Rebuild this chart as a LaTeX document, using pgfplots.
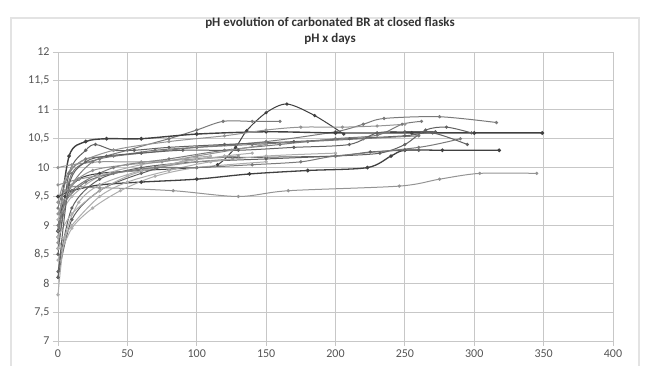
\documentclass[border=0pt]{standalone}
\usepackage{fontspec}
\setmainfont{Carlito}
\usepackage{pgfplots}
\pgfplotsset{compat=1.18}
\definecolor{gridc}{gray}{0.78}
\definecolor{tickc}{gray}{0.33}
\definecolor{g1}{gray}{0.25}
\definecolor{g2}{gray}{0.38}
\definecolor{g3}{gray}{0.48}
\definecolor{g4}{gray}{0.58}
\definecolor{g5}{gray}{0.68}
\pgfplotsset{ser/.style={smooth, tension=0.5, line width=1pt, mark=*, mark size=1.1pt, mark options={solid}}}
\begin{document}
\begin{tikzpicture}[x=1pt,y=1pt]
\path[use as bounding box] (-58,-25) rectangle (587,341);
\draw[line width=2pt, gray!22] (-47,-40) rectangle (581,323);
\begin{axis}[
  at={(0,0)}, anchor=south west,
  scale only axis, width=555pt, height=289pt,
  xmin=0, xmax=400, ymin=7, ymax=12,
  xtick={0,50,...,400}, xticklabels={0,50,100,150,200,250,300,350,400},
  ytick={7,7.5,...,12}, yticklabels={{7},{7,5},{8},{8,5},{9},{9,5},{10},{10,5},{11},{11,5},{12}},
  grid=major, grid style={gridc, line width=0.8pt},
  axis lines*=left, axis line style={gridc, line width=0.9pt},
  tick align=outside, major tick length=5pt, tick style={gridc, line width=0.8pt},
  tick label style={font=\fontsize{12}{12}\selectfont, text=tickc},
  clip=false,
]
% S1 hump
\addplot[ser, g1] coordinates {(0,8.9)(5,9.5)(15,9.8)(30,9.9)(60,9.95)(100,10.0)(115,10.05)(128,10.35)(136,10.64)(150,10.95)(165,11.1)(185,10.9)(206,10.58)};
% S2 10.8 flat
\addplot[ser, g3] coordinates {(0,8.6)(8,9.6)(25,10.1)(50,10.3)(80,10.5)(100,10.65)(119,10.8)(140,10.8)(160,10.8)};
% S3 top right
\addplot[ser, g3] coordinates {(0,8.8)(10,9.9)(30,10.15)(60,10.25)(100,10.35)(150,10.45)(200,10.62)(220,10.75)(235,10.85)(275,10.88)(316,10.78)};
% S4 thick plateau
\addplot[ser, g1, line width=1.4pt] coordinates {(0,8.9)(8,10.2)(20,10.45)(35,10.5)(60,10.5)(100,10.58)(150,10.62)(200,10.6)(255,10.6)(300,10.6)(349,10.6)};
% S5 dark to 318
\addplot[ser, g1, line width=1.3pt] coordinates {(0,9.5)(10,9.6)(30,9.7)(60,9.75)(100,9.8)(138,9.89)(180,9.95)(223,10.0)(240,10.2)(250,10.3)(277,10.3)(318,10.3)};
% S6 lower light
\addplot[ser, g4] coordinates {(0,8.7)(5,9.6)(30,9.65)(83,9.6)(130,9.5)(166,9.6)(246,9.68)(275,9.8)(304,9.9)(345,9.9)};
% S7 bump at 25
\addplot[ser, g2] coordinates {(0,8.5)(8,9.9)(20,10.3)(27,10.4)(40,10.3)(55,10.3)(80,10.35)(120,10.4)(170,10.45)(210,10.5)(250,10.55)(270,10.6)(295,10.4)};
% S8 S-curve
\addplot[ser, g2] coordinates {(0,8.2)(10,9.3)(30,9.8)(60,10.0)(100,10.1)(150,10.15)(200,10.2)(232,10.25)(250,10.4)(265,10.65)(280,10.7)(298,10.6)};
% S9 to 262
\addplot[ser, g3] coordinates {(0,9.0)(10,9.6)(40,10.0)(80,10.15)(120,10.3)(160,10.4)(200,10.5)(230,10.56)(248,10.75)(262,10.8)};
% S10
\addplot[ser, g2] coordinates {(0,8.1)(10,9.1)(30,9.6)(60,9.9)(100,10.15)(150,10.18)(200,10.2)(225,10.27)(250,10.3)(260,10.3)};
% S11
\addplot[ser, g4] coordinates {(0,10.0)(10,10.05)(30,10.1)(60,10.1)(100,10.15)(130,10.2)};
% S12
\addplot[ser, g4] coordinates {(0,9.7)(15,9.8)(40,9.9)(70,10.0)(100,10.1)(126,10.15)};
% S13
\addplot[ser, g5] coordinates {(0,8.6)(10,9.0)(30,9.5)(50,9.75)(80,9.95)(110,10.1)(150,10.2)(200,10.25)};
% S14
\addplot[ser, g5] coordinates {(0,8.8)(10,9.2)(30,9.6)(50,9.85)(70,10.0)(100,10.15)};
% S15
\addplot[ser, g5] coordinates {(0,9.1)(10,9.5)(30,9.85)(60,10.05)(90,10.15)(110,10.2)};
% S16
\addplot[ser, g5] coordinates {(0,8.4)(10,8.95)(25,9.3)(45,9.6)(70,9.85)(100,10.0)(150,10.1)};
% S17
\addplot[ser, g3] coordinates {(0,9.3)(8,9.9)(20,10.15)(40,10.2)(70,10.3)(100,10.35)(140,10.4)(180,10.45)(220,10.5)(260,10.55)};
% S18
\addplot[ser, g2] coordinates {(0,8.1)(8,9.7)(20,10.1)(35,10.2)(60,10.25)(90,10.3)(130,10.3)(170,10.35)(210,10.4)(230,10.6)(250,10.62)(272,10.62)};
% S19
\addplot[ser, g5] coordinates {(0,7.8)(5,8.8)(15,9.4)(30,9.7)(60,9.95)(90,10.1)(120,10.2)(140,10.25)};
% S20
\addplot[ser, g4] coordinates {(0,9.2)(10,9.7)(25,9.95)(50,10.05)(75,10.1)(100,10.2)(125,10.3)(150,10.4)};
% S21
\addplot[ser, g3] coordinates {(0,8.9)(5,9.4)(20,9.75)(40,9.9)(70,10.0)(100,10.0)(140,10.05)(175,10.1)(200,10.2)(260,10.35)(290,10.5)};
% S22
\addplot[ser, g4] coordinates {(0,9.4)(10,10.0)(40,10.3)(80,10.45)(120,10.55)(150,10.65)(175,10.7)(205,10.7)(230,10.72)(250,10.75)};
\end{axis}
\node[font=\bfseries\fontsize{13}{13}\selectfont, text=black!80] at (272,318) {pH evolution of carbonated BR at closed flasks};
\node[font=\bfseries\fontsize{13}{13}\selectfont, text=black!80] at (272,302) {pH x days};
\end{tikzpicture}
\end{document}
